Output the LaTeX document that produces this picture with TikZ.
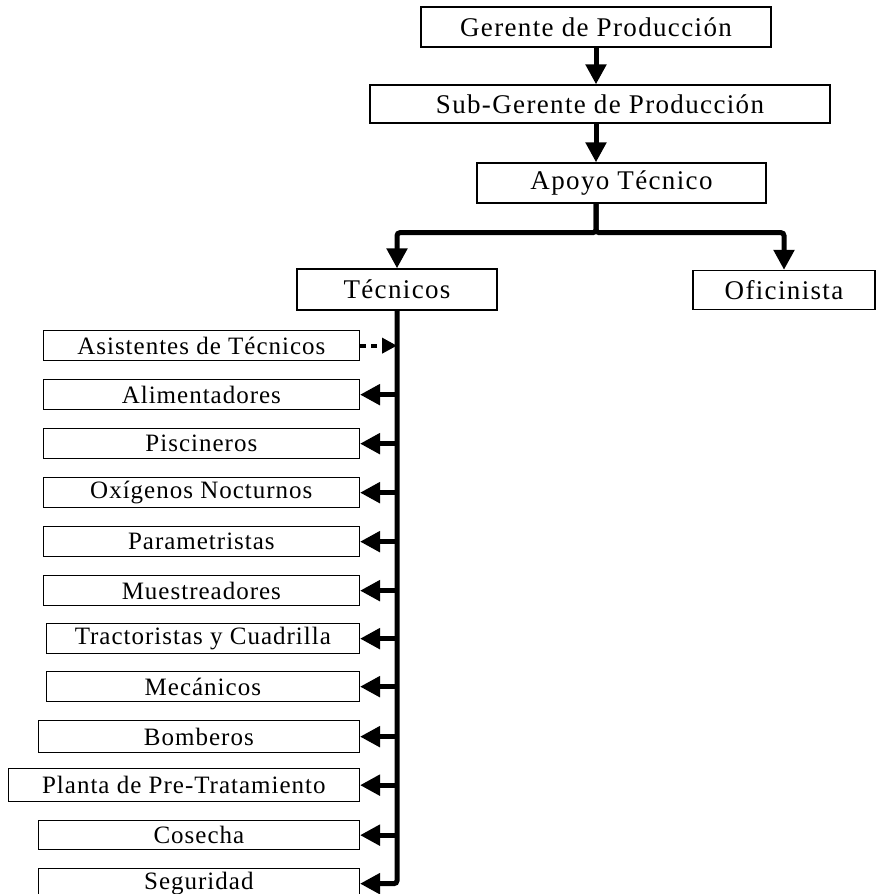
\documentclass[tikz,border=0pt]{standalone}
\usepackage{fontspec}
\setmainfont{Liberation Serif}
\newfontfamily\topboxfont{Liberation Serif}[LetterSpace=5]
\newfontfamily\staffboxfont{Liberation Serif}[LetterSpace=4]
\usepackage{tikz}
\usetikzlibrary{arrows.meta}
\tikzset{>={Triangle[width=20pt,length=20pt]}}
\tikzset{
    topbox/.style={draw, line width=1.3pt, inner sep=0pt, font=\topboxfont\fontsize{27}{31}\selectfont},
    staffbox/.style={draw, line width=1.3pt, inner sep=0pt, minimum height=30pt, anchor=north east, font=\staffboxfont\fontsize{25}{29}\selectfont},
    mainline/.style={line width=5pt}
}

\begin{document}
\begin{tikzpicture}[x=1pt, y=-1pt]
            \useasboundingbox (0, 0) rectangle (876, 894);
            % top of the chart
            \node[topbox, minimum width=350pt, minimum height=40pt] (gerente) at (596, 27) {Gerente de Producción};
            \node[topbox, minimum width=460pt, minimum height=38pt] (subgerente) at (600, 104) {Sub-Gerente de Producción};
            \node[topbox, minimum width=289pt, minimum height=40pt] (apoyo) at (621.5, 183) {Apoyo Técnico};
            \node[topbox, minimum width=200pt, minimum height=41pt] (tecnicos) at (397, 289.5) {Técnicos};
            \node[topbox, minimum width=182pt, minimum height=39pt] (oficinista) at (784, 290) {Oficinista};
            % staff under the technicians
            \node[staffbox, minimum width=316pt] (asistentes) at (360, 330) {Asistentes de Técnicos};
            \node[staffbox, minimum width=316pt] (alimentadores) at (360, 379) {Alimentadores};
            \node[staffbox, minimum width=316pt] (piscineros) at (360, 428) {Piscineros};
            \node[staffbox, minimum width=316pt] (oxigenos) at (360, 477) {Oxígenos Nocturnos};
            \node[staffbox, minimum width=316pt] (parametristas) at (360, 526) {Parametristas};
            \node[staffbox, minimum width=316pt] (muestreadores) at (360, 575) {Muestreadores};
            \node[staffbox, minimum width=313pt] (tractoristas) at (360, 623) {Tractoristas y Cuadrilla};
            \node[staffbox, minimum width=313pt] (mecanicos) at (360, 671) {Mecánicos};
            \node[staffbox, minimum width=321pt, minimum height=32pt] (bomberos) at (360, 720) {Bomberos};
            \node[staffbox, minimum width=351pt, minimum height=33pt] (planta) at (360, 768) {Planta de Pre-Tratamiento};
            \node[staffbox, minimum width=321pt, minimum height=29pt] (cosecha) at (360, 820) {Cosecha};
            \node[staffbox, minimum width=321pt] (seguridad) at (360, 868) {Seguridad};
            % connectors
            \draw[mainline, ->] (gerente.south) -- (gerente.south |- subgerente.north);
            \draw[mainline, ->] (gerente.south |- subgerente.south) -- (gerente.south |- apoyo.north);
            \draw[mainline, ->, rounded corners=3pt] (gerente.south |- apoyo.south) -- ++(0, 29) -| (tecnicos.north);
            \draw[mainline, ->, rounded corners=3pt] (gerente.south |- apoyo.south) -- ++(0, 29) -| (oficinista.north);
            \draw[mainline, ->, rounded corners=3pt] (tecnicos.south) |- (seguridad.east);
            \draw[mainline, line width=4pt, dash pattern=on 6pt off 5pt, -{Triangle[width=15pt, length=15pt]}] (asistentes.east) -- (tecnicos.south |- asistentes.east);
            \draw[mainline, ->] (tecnicos.south |- alimentadores.east) -- (alimentadores.east);
            \draw[mainline, ->] (tecnicos.south |- piscineros.east) -- (piscineros.east);
            \draw[mainline, ->] (tecnicos.south |- oxigenos.east) -- (oxigenos.east);
            \draw[mainline, ->] (tecnicos.south |- parametristas.east) -- (parametristas.east);
            \draw[mainline, ->] (tecnicos.south |- muestreadores.east) -- (muestreadores.east);
            \draw[mainline, ->] (tecnicos.south |- tractoristas.east) -- (tractoristas.east);
            \draw[mainline, ->] (tecnicos.south |- mecanicos.east) -- (mecanicos.east);
            \draw[mainline, ->] (tecnicos.south |- bomberos.east) -- (bomberos.east);
            \draw[mainline, ->] (tecnicos.south |- planta.east) -- (planta.east);
            \draw[mainline, ->] (tecnicos.south |- cosecha.east) -- (cosecha.east);
        \end{tikzpicture}
\end{document}
